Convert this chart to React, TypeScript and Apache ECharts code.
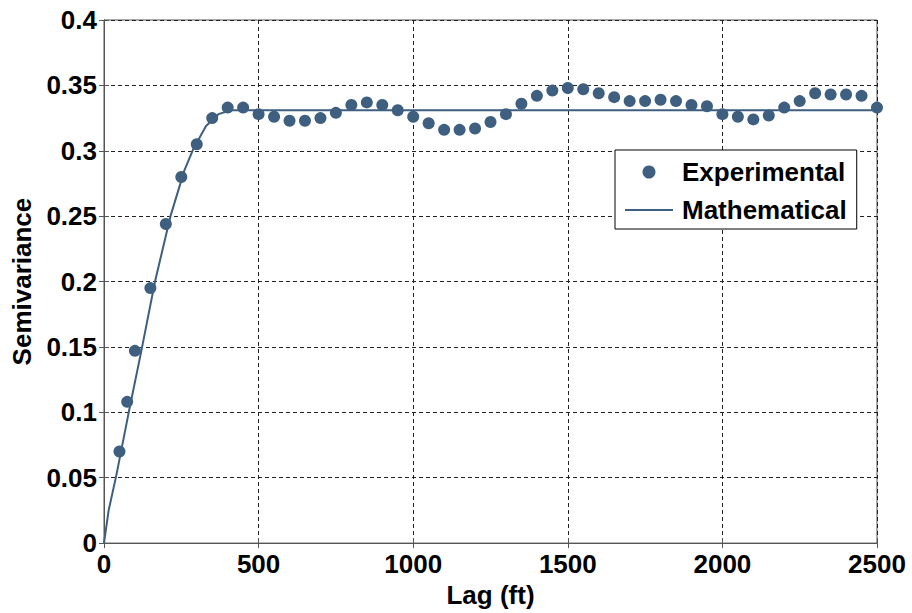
import React, { useEffect, useRef } from "react";
import * as echarts from "echarts";

const expLags = [50, 75, 100, 150, 200, 250, 300, 350, 400, 450, 500, 550, 600, 650, 700, 750, 800, 850, 900, 950, 1000, 1050, 1100, 1150, 1200, 1250, 1300, 1350, 1400, 1450, 1500, 1550, 1600, 1650, 1700, 1750, 1800, 1850, 1900, 1950, 2000, 2050, 2100, 2150, 2200, 2250, 2300, 2350, 2400, 2450, 2500];
const expValues = [0.070, 0.108, 0.147, 0.195, 0.244, 0.280, 0.305, 0.325, 0.333, 0.333, 0.328, 0.326, 0.323, 0.323, 0.325, 0.329, 0.335, 0.337, 0.335, 0.331, 0.326, 0.321, 0.316, 0.316, 0.317, 0.322, 0.328, 0.336, 0.342, 0.346, 0.348, 0.347, 0.344, 0.341, 0.338, 0.338, 0.339, 0.338, 0.335, 0.334, 0.328, 0.326, 0.324, 0.327, 0.333, 0.338, 0.344, 0.343, 0.343, 0.342, 0.333];

const modelLags = [0, 15, 40, 80, 120, 165, 215, 260, 290, 330, 370, 410, 2500];
const modelValues = [0, 0.025, 0.052, 0.1, 0.146, 0.2, 0.25, 0.285, 0.302, 0.319, 0.328, 0.331, 0.331];

const xTicks = { min: 0, max: 2500, interval: 500 };
const yTicks = { min: 0, max: 0.4, interval: 0.05 };

const COLOR = "#3e5f80";
const FONT = "'Liberation Sans', Arial, sans-serif";
const LINE_ICON = "path://M0,0 L0.05,0 L0,0.05 Z M0,5.5 L48,5.5 L48,7.5 L0,7.5 Z M47.95,13 L48,13 L48,12.95 Z";

export default function App() {
  const ref = useRef<HTMLDivElement>(null);
  useEffect(() => {
    if (!ref.current) return;
    const chart = echarts.init(ref.current, undefined, { renderer: "svg" });
    const labelStyle = { color: "#000", fontSize: 26, fontWeight: "bold" as const, fontFamily: FONT };
    const gridLine = { show: true, lineStyle: { color: "#222", width: 1, type: [4, 3] as number[] } };
    const fmt = (v: number) => String(v);
    chart.setOption({
      animation: false,
      backgroundColor: "#fff",
      grid: { left: 104, right: 35, top: 20, bottom: 69, show: true, borderColor: "#555", borderWidth: 1, backgroundColor: "transparent" },
      legend: {
        left: 615,
        top: 150,
        orient: "vertical",
        backgroundColor: "#fff",
        borderColor: "#000",
        borderWidth: 1,
        borderRadius: 0,
        padding: [9, 10, 6, 10],
        itemWidth: 48,
        itemHeight: 13,
        itemGap: 12,
        textStyle: { ...labelStyle, padding: [0, 0, 0, 4] },
        data: [
          { name: "Experimental", icon: "circle" },
          { name: "Mathematical", icon: LINE_ICON },
        ],
      },
      xAxis: [
        {
          type: "value",
          ...xTicks,
          name: "Lag (ft)",
          nameLocation: "middle",
          nameGap: 38,
          nameTextStyle: labelStyle,
          axisLine: { show: true, lineStyle: { color: "#555", width: 1 } },
          axisTick: { show: true, inside: true, length: 5, lineStyle: { color: "#555" } },
          axisLabel: { ...labelStyle, margin: 8, formatter: fmt },
          splitLine: gridLine,
        },
        {
          type: "value",
          ...xTicks,
          position: "top",
          axisLine: { show: true, lineStyle: { color: "#555", width: 1 } },
          axisTick: { show: true, inside: true, length: 5, lineStyle: { color: "#555" } },
          axisLabel: { show: false },
          splitLine: { show: false },
        },
      ],
      yAxis: [
        {
          type: "value",
          ...yTicks,
          name: "Semivariance",
          nameLocation: "middle",
          nameGap: 68,
          nameTextStyle: labelStyle,
          axisLine: { show: true, lineStyle: { color: "#555", width: 1 } },
          axisTick: { show: true, inside: true, length: 5, lineStyle: { color: "#555" } },
          axisLabel: { ...labelStyle, margin: 7, formatter: fmt },
          splitLine: gridLine,
        },
        {
          type: "value",
          ...yTicks,
          position: "right",
          axisLine: { show: true, lineStyle: { color: "#555", width: 1 } },
          axisTick: { show: true, inside: true, length: 5, lineStyle: { color: "#555" } },
          axisLabel: { show: false },
          splitLine: { show: false },
        },
      ],
      series: [
        {
          name: "Mathematical",
          type: "line",
          xAxisIndex: 0,
          yAxisIndex: 0,
          symbol: "none",
          lineStyle: { color: COLOR, width: 2 },
          itemStyle: { color: COLOR },
          data: modelLags.map((x, i) => [x, modelValues[i]]),
          z: 2,
        },
        {
          name: "Experimental",
          type: "scatter",
          xAxisIndex: 0,
          yAxisIndex: 0,
          symbol: "circle",
          symbolSize: 12,
          itemStyle: { color: COLOR, opacity: 1 },
          data: expLags.map((x, i) => [x, expValues[i]]),
          z: 3,
        },
      ],
    });
    return () => chart.dispose();
  }, []);
  return <div ref={ref} style={{ width: 912, height: 613, position: "absolute", left: 0, top: 0 }} />;
}
